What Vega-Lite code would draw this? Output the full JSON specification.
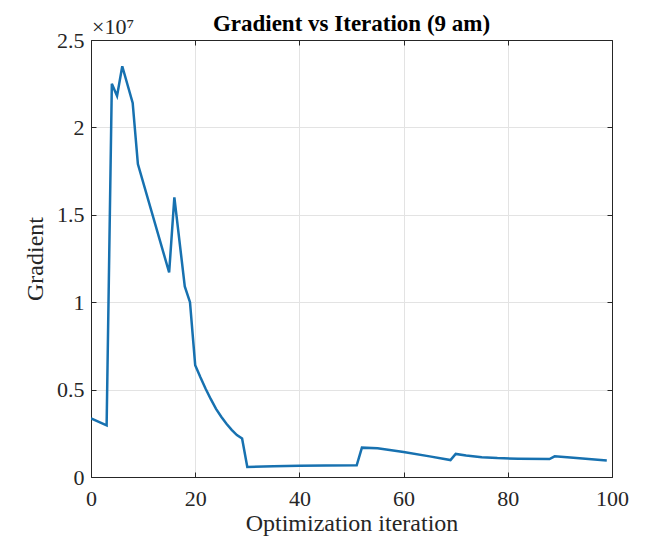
{
  "$schema": "https://vega.github.io/schema/vega-lite/v6.json",
  "autosize": {"type": "none"},
  "width": 521,
  "height": 437,
  "padding": {"left": 91, "top": 40, "right": 36, "bottom": 69},
  "background": "white",
  "title": {"text": "Gradient vs Iteration (9 am)", "font": "Liberation Serif", "fontSize": 23, "fontWeight": "bold", "color": "#000000", "anchor": "middle", "offset": -20},
  "config": {
    "view": {"stroke": null},
    "axis": {"labelFont": "Liberation Serif", "titleFont": "Liberation Serif", "labelFontSize": 22, "titleFontSize": 24, "titleFontWeight": "normal", "labelColor": "#262626", "titleColor": "#262626", "domainColor": "#262626", "tickColor": "#262626", "gridColor": "#e3e3e3", "domainWidth": 1, "tickSize": -5, "labelPadding": 16, "labelFlush": false}
  },
  "datasets": {
    "grad": [
      {"iter": 0, "g": 3350000},
      {"iter": 3, "g": 2950000},
      {"iter": 4, "g": 22500000},
      {"iter": 5, "g": 21800000},
      {"iter": 6, "g": 23500000},
      {"iter": 8, "g": 21400000},
      {"iter": 9, "g": 17900000},
      {"iter": 15, "g": 11700000},
      {"iter": 16, "g": 16000000},
      {"iter": 18, "g": 10900000},
      {"iter": 19, "g": 10000000},
      {"iter": 20, "g": 6400000},
      {"iter": 21, "g": 5700000},
      {"iter": 22, "g": 5050000},
      {"iter": 23, "g": 4450000},
      {"iter": 24, "g": 3900000},
      {"iter": 25, "g": 3450000},
      {"iter": 26, "g": 3050000},
      {"iter": 27, "g": 2700000},
      {"iter": 28, "g": 2400000},
      {"iter": 29, "g": 2200000},
      {"iter": 30, "g": 570000},
      {"iter": 35, "g": 610000},
      {"iter": 40, "g": 640000},
      {"iter": 45, "g": 660000},
      {"iter": 51, "g": 670000},
      {"iter": 52, "g": 1680000},
      {"iter": 55, "g": 1640000},
      {"iter": 60, "g": 1430000},
      {"iter": 65, "g": 1180000},
      {"iter": 69, "g": 970000},
      {"iter": 70, "g": 1320000},
      {"iter": 72, "g": 1230000},
      {"iter": 75, "g": 1130000},
      {"iter": 78, "g": 1080000},
      {"iter": 82, "g": 1050000},
      {"iter": 88, "g": 1030000},
      {"iter": 89, "g": 1180000},
      {"iter": 92, "g": 1120000},
      {"iter": 99, "g": 940000}
    ],
    "note": [{"iter": 0, "g": 25000000, "label": "×10⁷"}]
  },
  "resolve": {"axis": {"x": "independent", "y": "independent"}},
  "layer": [
    {
      "data": {"name": "grad"},
      "mark": {"type": "line", "color": "#1771B0", "strokeWidth": 2.5, "clip": true},
      "encoding": {
        "x": {"field": "iter", "type": "quantitative", "scale": {"domain": [0, 100], "nice": false, "zero": false},
          "axis": {"title": "Optimization iteration", "values": [0, 20, 40, 60, 80, 100], "grid": true, "titlePadding": 2}},
        "y": {"field": "g", "type": "quantitative", "scale": {"domain": [0, 25000000], "nice": false},
          "axis": {"title": "Gradient", "values": [0, 5000000, 10000000, 15000000, 20000000, 25000000], "labelExpr": "format(datum.value / 10000000, '~g')", "grid": true, "labelPadding": 12, "titlePadding": 9}}
      }
    },
    {
      "data": {"name": "note"},
      "mark": {"type": "text", "font": "Liberation Serif", "fontSize": 22, "color": "#262626", "align": "left", "baseline": "alphabetic", "dx": 1, "dy": -6},
      "encoding": {
        "x": {"field": "iter", "type": "quantitative", "axis": {"orient": "top", "labels": false, "title": null, "grid": false, "values": [0, 20, 40, 60, 80, 100]}},
        "y": {"field": "g", "type": "quantitative", "axis": {"orient": "right", "labels": false, "title": null, "grid": false, "values": [0, 5000000, 10000000, 15000000, 20000000, 25000000]}},
        "text": {"field": "label"}
      }
    }
  ]
}
